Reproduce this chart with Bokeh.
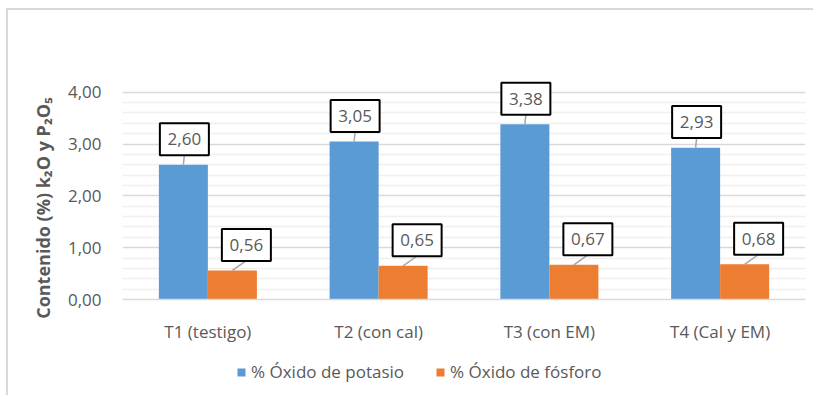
from bokeh.plotting import figure
from bokeh.layouts import column
from bokeh.models import (ColumnDataSource, FactorRange, FixedTicker,
                          Legend, LegendItem)
from bokeh.transform import dodge
from bokeh.core.properties import value
from bokeh.embed import file_html
from bokeh.resources import INLINE

categories = ["T1 (testigo)", "T2 (con cal)", "T3 (con EM)", "T4 (Cal y EM)"]
potasio = [2.60, 3.05, 3.38, 2.93]
fosforo = [0.56, 0.65, 0.67, 0.68]
series_names = ["% Óxido de potasio", "% Óxido de fósforo"]
y_ticks = [0, 1, 2, 3, 4]
y_minor = [0.2, 0.4, 0.6, 0.8, 1.2, 1.4, 1.6, 1.8, 2.2, 2.4, 2.6, 2.8,
           3.2, 3.4, 3.6, 3.8]
y_tick_labels = ["0,00", "1,00", "2,00", "3,00", "4,00"]
y_title = "Contenido (%) k₂O y P₂O₅"

FONT = "Open Sans"
BLUE = "#5b9bd5"
ORANGE = "#ed7d31"
TXT = "#595959"

W, H = 805, 335
ML, MR, MT, MB = 114, 8, 61, 42
YMAX = 4.4
frame_w = W - ML - MR
frame_h = H - MT - MB
px_y = YMAX / frame_h
px_x = len(categories) / frame_w

BW = 0.287
off_b = -BW / 2
off_o = BW / 2

def fmt(v):
    return f"{v:.2f}".replace(".", ",")

LAB_DY = 26 * px_y
BOX_HALF = 16 * px_y

src = ColumnDataSource(dict(
    cat=categories,
    pot=potasio,
    fos=fosforo,
    pot_lab=[fmt(v) for v in potasio],
    fos_lab=[fmt(v) for v in fosforo],
    pot_ly=[v + LAB_DY for v in potasio],
    fos_ly=[v + LAB_DY for v in fosforo],
    pot_lb=[v + LAB_DY - BOX_HALF for v in potasio],
    fos_lb=[v + LAB_DY - BOX_HALF for v in fosforo],
))

p = figure(x_range=FactorRange(factors=categories, range_padding=0),
           y_range=(0, YMAX), width=W, height=H,
           output_backend="svg", toolbar_location=None,
           min_border_left=ML, min_border_right=MR,
           min_border_top=MT, min_border_bottom=MB)
p.outline_line_color = None
p.background_fill_color = "white"
p.border_fill_color = "white"

r_b = p.vbar(x=dodge("cat", off_b, range=p.x_range), top="pot", width=BW,
             source=src, fill_color=BLUE, line_color=None)
r_o = p.vbar(x=dodge("cat", off_o, range=p.x_range), top="fos", width=BW,
             source=src, fill_color=ORANGE, line_color=None)

# leader lines
lx_b = 1 * px_x
lx_o = 14 * px_x
p.segment(x0=dodge("cat", off_b, range=p.x_range), y0="pot",
          x1=dodge("cat", off_b + lx_b, range=p.x_range), y1="pot_lb",
          source=src, line_color="#a6a6a6", line_width=1.5)
p.segment(x0=dodge("cat", off_o, range=p.x_range), y0="fos",
          x1=dodge("cat", off_o + lx_o, range=p.x_range), y1="fos_lb",
          source=src, line_color="#a6a6a6", line_width=1.5)

for xoff, ycol, tcol in [(off_b + lx_b, "pot_ly", "pot_lab"),
                         (off_o + lx_o, "fos_ly", "fos_lab")]:
    xs = dodge("cat", xoff, range=p.x_range)
    p.rect(x=xs, y=ycol, width=49, height=32, width_units="screen",
           height_units="screen", source=src, fill_color="white",
           line_color="black", line_width=2)
    p.text(x=xs, y=ycol, text=tcol, source=src, text_align="center",
           text_baseline="middle", text_font=value(FONT),
           text_font_size="17px", text_color=TXT)

# axes
p.xgrid.grid_line_color = None
p.ygrid.grid_line_color = "#d9d9d9"
p.ygrid.grid_line_width = 1.5
p.ygrid.minor_grid_line_color = "#f0f0f0"
p.ygrid.minor_grid_line_width = 1.5
p.yaxis.ticker = FixedTicker(ticks=y_ticks, minor_ticks=y_minor)
p.yaxis.major_label_overrides = {t: l for t, l in zip(y_ticks, y_tick_labels)}
p.yaxis.axis_line_color = None
p.yaxis.major_tick_line_color = None
p.yaxis.minor_tick_line_color = None
p.yaxis.major_label_standoff = 15
p.yaxis.major_label_text_font = FONT
p.yaxis.major_label_text_font_size = "17px"
p.yaxis.major_label_text_color = TXT
p.yaxis.axis_label = y_title + "\u2003\u2003\u2002"
p.yaxis.axis_label_text_font = FONT
p.yaxis.axis_label_text_font_style = "bold"
p.yaxis.axis_label_text_font_size = "18px"
p.yaxis.axis_label_text_color = TXT
p.yaxis.axis_label_standoff = 10

p.xaxis.axis_line_color = "#d9d9d9"
p.xaxis.axis_line_width = 1.5
p.xaxis.major_tick_line_color = None
p.xaxis.minor_tick_line_color = None
p.xaxis.major_label_standoff = 14
p.xaxis.major_label_text_font = FONT
p.xaxis.major_label_text_font_size = "17px"
p.xaxis.major_label_text_color = TXT

# legend strip (separate figure below the chart; its frame aligns with p's)
LH = 50
p2 = figure(width=W, height=LH, x_range=(0, 1), y_range=(0, 1),
            output_backend="svg", toolbar_location=None,
            min_border_left=0, min_border_right=0,
            min_border_top=0, min_border_bottom=0)
p2.axis.visible = False
p2.grid.grid_line_color = None
p2.outline_line_color = None
p2.border_fill_color = "white"
# zero-size proxies that only provide the legend swatches
lg_b = p2.vbar(x=[0], top=[0], width=0, fill_color=BLUE, line_color=None)
lg_o = p2.vbar(x=[0], top=[0], width=0, fill_color=ORANGE, line_color=None)
legend = Legend(items=[LegendItem(label=series_names[0], renderers=[lg_b]),
                       LegendItem(label=series_names[1], renderers=[lg_o])],
                orientation="horizontal", location=(114, 12),
                label_text_font=FONT, label_text_font_size="17px",
                label_text_color=TXT, glyph_width=10, glyph_height=10,
                label_standoff=5, spacing=31, padding=0, margin=0,
                border_line_color=None, background_fill_alpha=0)
p2.add_layout(legend, "center")

root = column(p, p2, spacing=0,
              styles={"border-top": "2px solid #d9d9d9",
                      "border-left": "2px solid #d9d9d9",
                      "margin-top": "8px", "margin-left": "6px"})

open("out.html", "w").write(file_html(root, INLINE))
